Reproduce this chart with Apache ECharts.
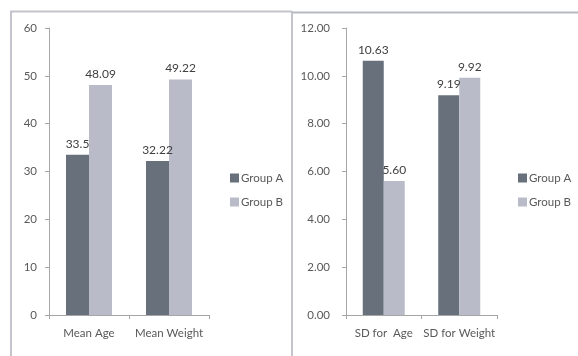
<!DOCTYPE html>
<html>
<head>
<meta charset="utf-8">
<script src="https://cdn.jsdelivr.net/npm/echarts@6/dist/echarts.min.js"></script>
<style>
  html, body { margin: 0; padding: 0; background: #fff; }
  #chart { width: 578px; height: 356px; }
</style>
</head>
<body>
<div id="chart"></div>
<script>
// Means (left panel)
const meanCategories = ['Mean Age', 'Mean Weight'];
const meanGroupA = [33.5, 32.22];
const meanGroupB = [48.09, 49.22];

// Standard deviations (right panel)
const sdCategories = ['SD for  Age', 'SD for Weight'];
const sdGroupA = [10.63, 9.19];
const sdGroupB = [5.60, 9.92];

const groupNames = ['Group A', 'Group B'];
const colorA = '#67707b';
const colorB = '#b9bcc8';
const textColor = '#595959';
const fontFamily = 'Lato, "Open Sans", sans-serif';

const chart = echarts.init(document.getElementById('chart'), null, { renderer: 'canvas' });

function valueLabel(fixed) {
  return {
    show: true,
    position: 'top',
    distance: 5,
    color: '#404040',
    fontSize: 12,
    fontFamily: fontFamily,
    formatter: p => fixed ? p.value.toFixed(2) : String(p.value)
  };
}

function xAxisFor(gridIndex, cats) {
  return {
    type: 'category',
    gridIndex: gridIndex,
    data: cats,
    axisLine: { lineStyle: { color: '#a6a6a6', width: 1 } },
    axisTick: { show: true, length: 4, lineStyle: { color: '#a6a6a6' } },
    axisLabel: { color: textColor, fontSize: 11.5, fontFamily: fontFamily, margin: 12, interval: 0, hideOverlap: false },
    splitLine: { show: false }
  };
}

function yAxisFor(gridIndex, max, interval, fixed, margin) {
  return {
    type: 'value',
    gridIndex: gridIndex,
    min: 0,
    max: max,
    interval: interval,
    axisLine: { show: true, lineStyle: { color: '#a6a6a6', width: 1 } },
    axisTick: { show: true, length: 4, lineStyle: { color: '#a6a6a6' } },
    axisLabel: {
      color: textColor, fontSize: 11.5, fontFamily: fontFamily, margin: margin,
      formatter: v => fixed ? v.toFixed(2) : String(v)
    },
    splitLine: { show: false }
  };
}

function legendAt(left) {
  return {
    data: groupNames,
    orient: 'vertical',
    left: left,
    top: 167,
    itemWidth: 9,
    itemHeight: 9,
    itemGap: 12,
    icon: 'rect',
    textStyle: { color: textColor, fontSize: 11.5, fontFamily: fontFamily, padding: [0, 0, 0, -3] }
  };
}

chart.setOption({
  animation: false,
  backgroundColor: '#ffffff',
  color: [colorA, colorB],
  graphic: [
    // panel frames
    { type: 'line', shape: { x1: 11, y1: 11, x2: 11, y2: 356 }, style: { stroke: '#c3c4cc', lineWidth: 2 } },
    { type: 'line', shape: { x1: 10, y1: 11.5, x2: 292, y2: 11.5 }, style: { stroke: '#c3c4cc', lineWidth: 2 } },
    { type: 'line', shape: { x1: 292, y1: 11, x2: 292, y2: 356 }, style: { stroke: '#c3c4cc', lineWidth: 2 } },
    { type: 'line', shape: { x1: 292, y1: 12.5, x2: 578, y2: 12.5 }, style: { stroke: '#b8b9c2', lineWidth: 2 } }
  ],
  grid: [
    { left: 49, top: 28, width: 160, height: 287 },
    { left: 346, top: 28, width: 151, height: 287 }
  ],
  legend: [legendAt(225), legendAt(513)],
  xAxis: [xAxisFor(0, meanCategories), xAxisFor(1, sdCategories)],
  yAxis: [yAxisFor(0, 60, 10, false, 12), yAxisFor(1, 12, 2, true, 16)],
  series: [
    { name: 'Group A', type: 'bar', xAxisIndex: 0, yAxisIndex: 0, data: meanGroupA,
      barWidth: 23, barGap: '0%', itemStyle: { color: colorA }, label: valueLabel(false) },
    { name: 'Group B', type: 'bar', xAxisIndex: 0, yAxisIndex: 0, data: meanGroupB,
      barWidth: 23, barGap: '0%', itemStyle: { color: colorB }, label: valueLabel(false) },
    { name: 'Group A', type: 'bar', xAxisIndex: 1, yAxisIndex: 1, data: sdGroupA,
      barWidth: 21, barGap: '0%', itemStyle: { color: colorA }, label: valueLabel(true) },
    { name: 'Group B', type: 'bar', xAxisIndex: 1, yAxisIndex: 1, data: sdGroupB,
      barWidth: 21, barGap: '0%', itemStyle: { color: colorB }, label: valueLabel(true) }
  ]
});
</script>
</body>
</html>
